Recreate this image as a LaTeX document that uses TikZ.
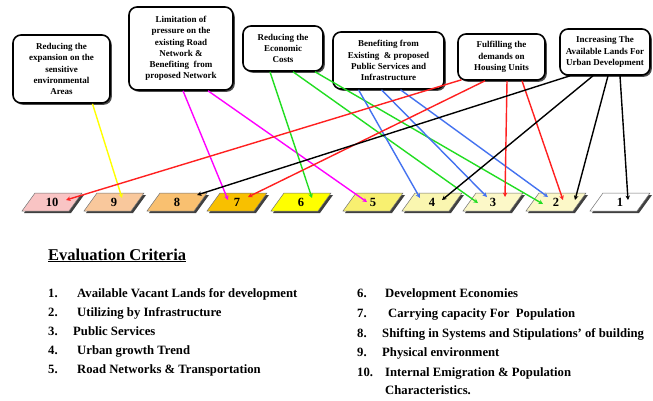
\documentclass[tikz,border=0pt]{standalone}
\usepackage{fontspec}
\setmainfont{Liberation Serif}
\usetikzlibrary{calc,arrows.meta,shadows}
\definecolor{p10}{HTML}{F9C4C4}
\definecolor{p9}{HTML}{F9C89C}
\definecolor{p8}{HTML}{F9C070}
\definecolor{p7}{HTML}{F8C000}
\definecolor{p6}{HTML}{FFFF00}
\definecolor{p5}{HTML}{F8F070}
\definecolor{p4}{HTML}{FAF6B0}
\definecolor{p3}{HTML}{FCF8C8}
\definecolor{p2}{HTML}{FCF8C8}
\definecolor{p1}{HTML}{FFFFFF}
\definecolor{lyel}{HTML}{FFFF00}
\definecolor{lmag}{HTML}{FF00FF}
\definecolor{lgrn}{HTML}{22DD22}
\definecolor{lblu}{HTML}{4472F0}
\definecolor{lred}{HTML}{FF2020}
\begin{document}
\begin{tikzpicture}[x=1pt,y=-1pt,
  goal/.style={draw=black, line width=1.6pt, rounded corners=8pt, fill=white,
    align=center, font=\fontsize{9}{11.2}\selectfont\bfseries, inner sep=1pt,
    drop shadow={shadow xshift=1.8pt, shadow yshift=-1.8pt, fill=black!70, opacity=1}},
  crit/.style={font=\fontsize{12.5}{14}\selectfont\bfseries, inner sep=0pt},
  conn/.style={line width=1.4pt, -{Stealth[length=4.5pt,width=4.5pt]}},
  itm/.style={anchor=base west, inner sep=0pt, font=\fontsize{12.7}{14}\selectfont\bfseries}]
\useasboundingbox (0,0) rectangle (653,400);
\fill[white] (0,0) rectangle (653,400);

% top goal boxes
\node[goal, minimum width=97pt, minimum height=68pt] (b1) at (61.5,69)
  {Reducing the\\expansion on the\\sensitive\\environmental\\Areas};
\node[goal, minimum width=104pt, minimum height=83pt] (b2) at (181,48.5)
  {Limitation of\\pressure on the\\existing Road\\Network \&\\Benefiting\ \ from\\proposed Network};
\node[goal, minimum width=80pt, minimum height=45pt] (b3) at (283,48.5)
  {Reducing the\\Economic\\Costs};
\node[goal, minimum width=111pt, minimum height=57pt] (b4) at (388.5,60.5)
  {Benefiting from\\Existing\ \ \& proposed\\Public Services and\\Infrastructure};
\node[goal, minimum width=87pt, minimum height=46pt] (b5) at (501.5,57)
  {Fulfilling the\\demands on\\Housing Units};
\node[goal, minimum width=90pt, minimum height=46pt] (b6) at (605,52)
  {Increasing The\\Available Lands For\\Urban Development};

% criteria parallelograms
\foreach \n/\x in {10/52,9/114,8/177,7/237,6/301,5/373,4/432,3/493,2/556,1/620}{
  \fill[black!75] (\x-28,213) -- (\x-15,195) -- (\x+32,195) -- (\x+19,213) -- cycle;
  \filldraw[fill=p\n, draw=black!55, line width=0.5pt]
    (\x-30,211) -- (\x-17,193) -- (\x+30,193) -- (\x+17,211) -- cycle;
  \node[crit] (n\n) at (\x,202) {\n};
}

% connectors
\draw[conn, lyel] ($(b1.south)+(31,0)$) -- ($(n9)+(8,-4)$);
\draw[conn, lmag] ($(b2.south)+(2,0)$) -- ($(n7)+(-9,-2)$);
\draw[conn, lmag] ($(b2.south)+(27,0)$) -- ($(n5)+(-6,0)$);
\draw[conn, lgrn] ($(b3.south)+(-13,0)$) -- ($(n6)+(11,-4)$);
\draw[conn, lgrn] ($(b3.south)+(10,0)$) -- ($(n3)+(-15,1)$);
\draw[conn, lgrn] ($(b3.south)+(32,0)$) -- ($(n2)+(-13,2)$);
\draw[conn, lblu] ($(b4.south)+(-30,0)$) -- ($(n4)+(-12,-4)$);
\draw[conn, lblu] ($(b4.south)+(-7,0)$) -- ($(n3)+(-6,-5)$);
\draw[conn, lblu] ($(b4.south)+(12,0)$) -- ($(n2)+(-8,-5)$);
\draw[conn, lred] ($(b5.south)+(-40,-1)$) -- ($(n10)+(14,-2)$);
\draw[conn, lred] ($(b5.south)+(-16.5,0)$) -- ($(n7)+(11,-5)$);
\draw[conn, lred] ($(b5.south)+(5.5,0)$) -- ($(n3)+(12,-5)$);
\draw[conn, lred] ($(b5.south)+(20.5,0)$) -- ($(n2)+(7,-2)$);
\draw[conn, black] ($(b6.south)+(-35,0)$) -- ($(n8)+(20,-7)$);
\draw[conn, black] ($(b6.south)+(-12,0)$) -- ($(n4)+(10,-2)$);
\draw[conn, black] ($(b6.south)+(3,0)$) -- ($(n2)+(19,-2)$);
\draw[conn, black] ($(b6.south)+(15,0)$) -- ($(n1)+(8,-2)$);

% legend
\node[anchor=base west, inner sep=0pt, font=\fontsize{16.5}{18}\selectfont\bfseries] (ttl) at (48,260)
  {\underline{Evaluation Criteria}};
\node[itm] (k1) at (48,297) {1.};
\node[itm] (t1) at (77,297) {Available Vacant Lands for development};
\node[itm] (k2) at (48,316) {2.};
\node[itm] (t2) at (77,316) {Utilizing by Infrastructure};
\node[itm] (k3) at (48,335) {3.};
\node[itm] (t3) at (73,335) {Public Services};
\node[itm] (k4) at (48,354) {4.};
\node[itm] (t4) at (77,354) {Urban growth Trend};
\node[itm] (k5) at (48,373) {5.};
\node[itm] (t5) at (77,373) {Road Networks \& Transportation};
\node[itm] (k6) at (357,297) {6.};
\node[itm] (t6) at (385,297) {Development Economies};
\node[itm] (k7) at (357,317) {7.};
\node[itm] (t7) at (388,317) {Carrying capacity For\ \ Population};
\node[itm] (k8) at (357,337) {8.};
\node[itm] (t8) at (382,337) {Shifting in Systems and Stipulations' of building};
\node[itm] (k9) at (357,356) {9.};
\node[itm] (t9) at (382,356) {Physical environment};
\node[itm] (k10) at (357,376) {10.};
\node[itm] (t10) at (385,376) {Internal Emigration \& Population};
\node[itm] (t10b) at (385,394) {Characteristics.};
\end{tikzpicture}
\end{document}
